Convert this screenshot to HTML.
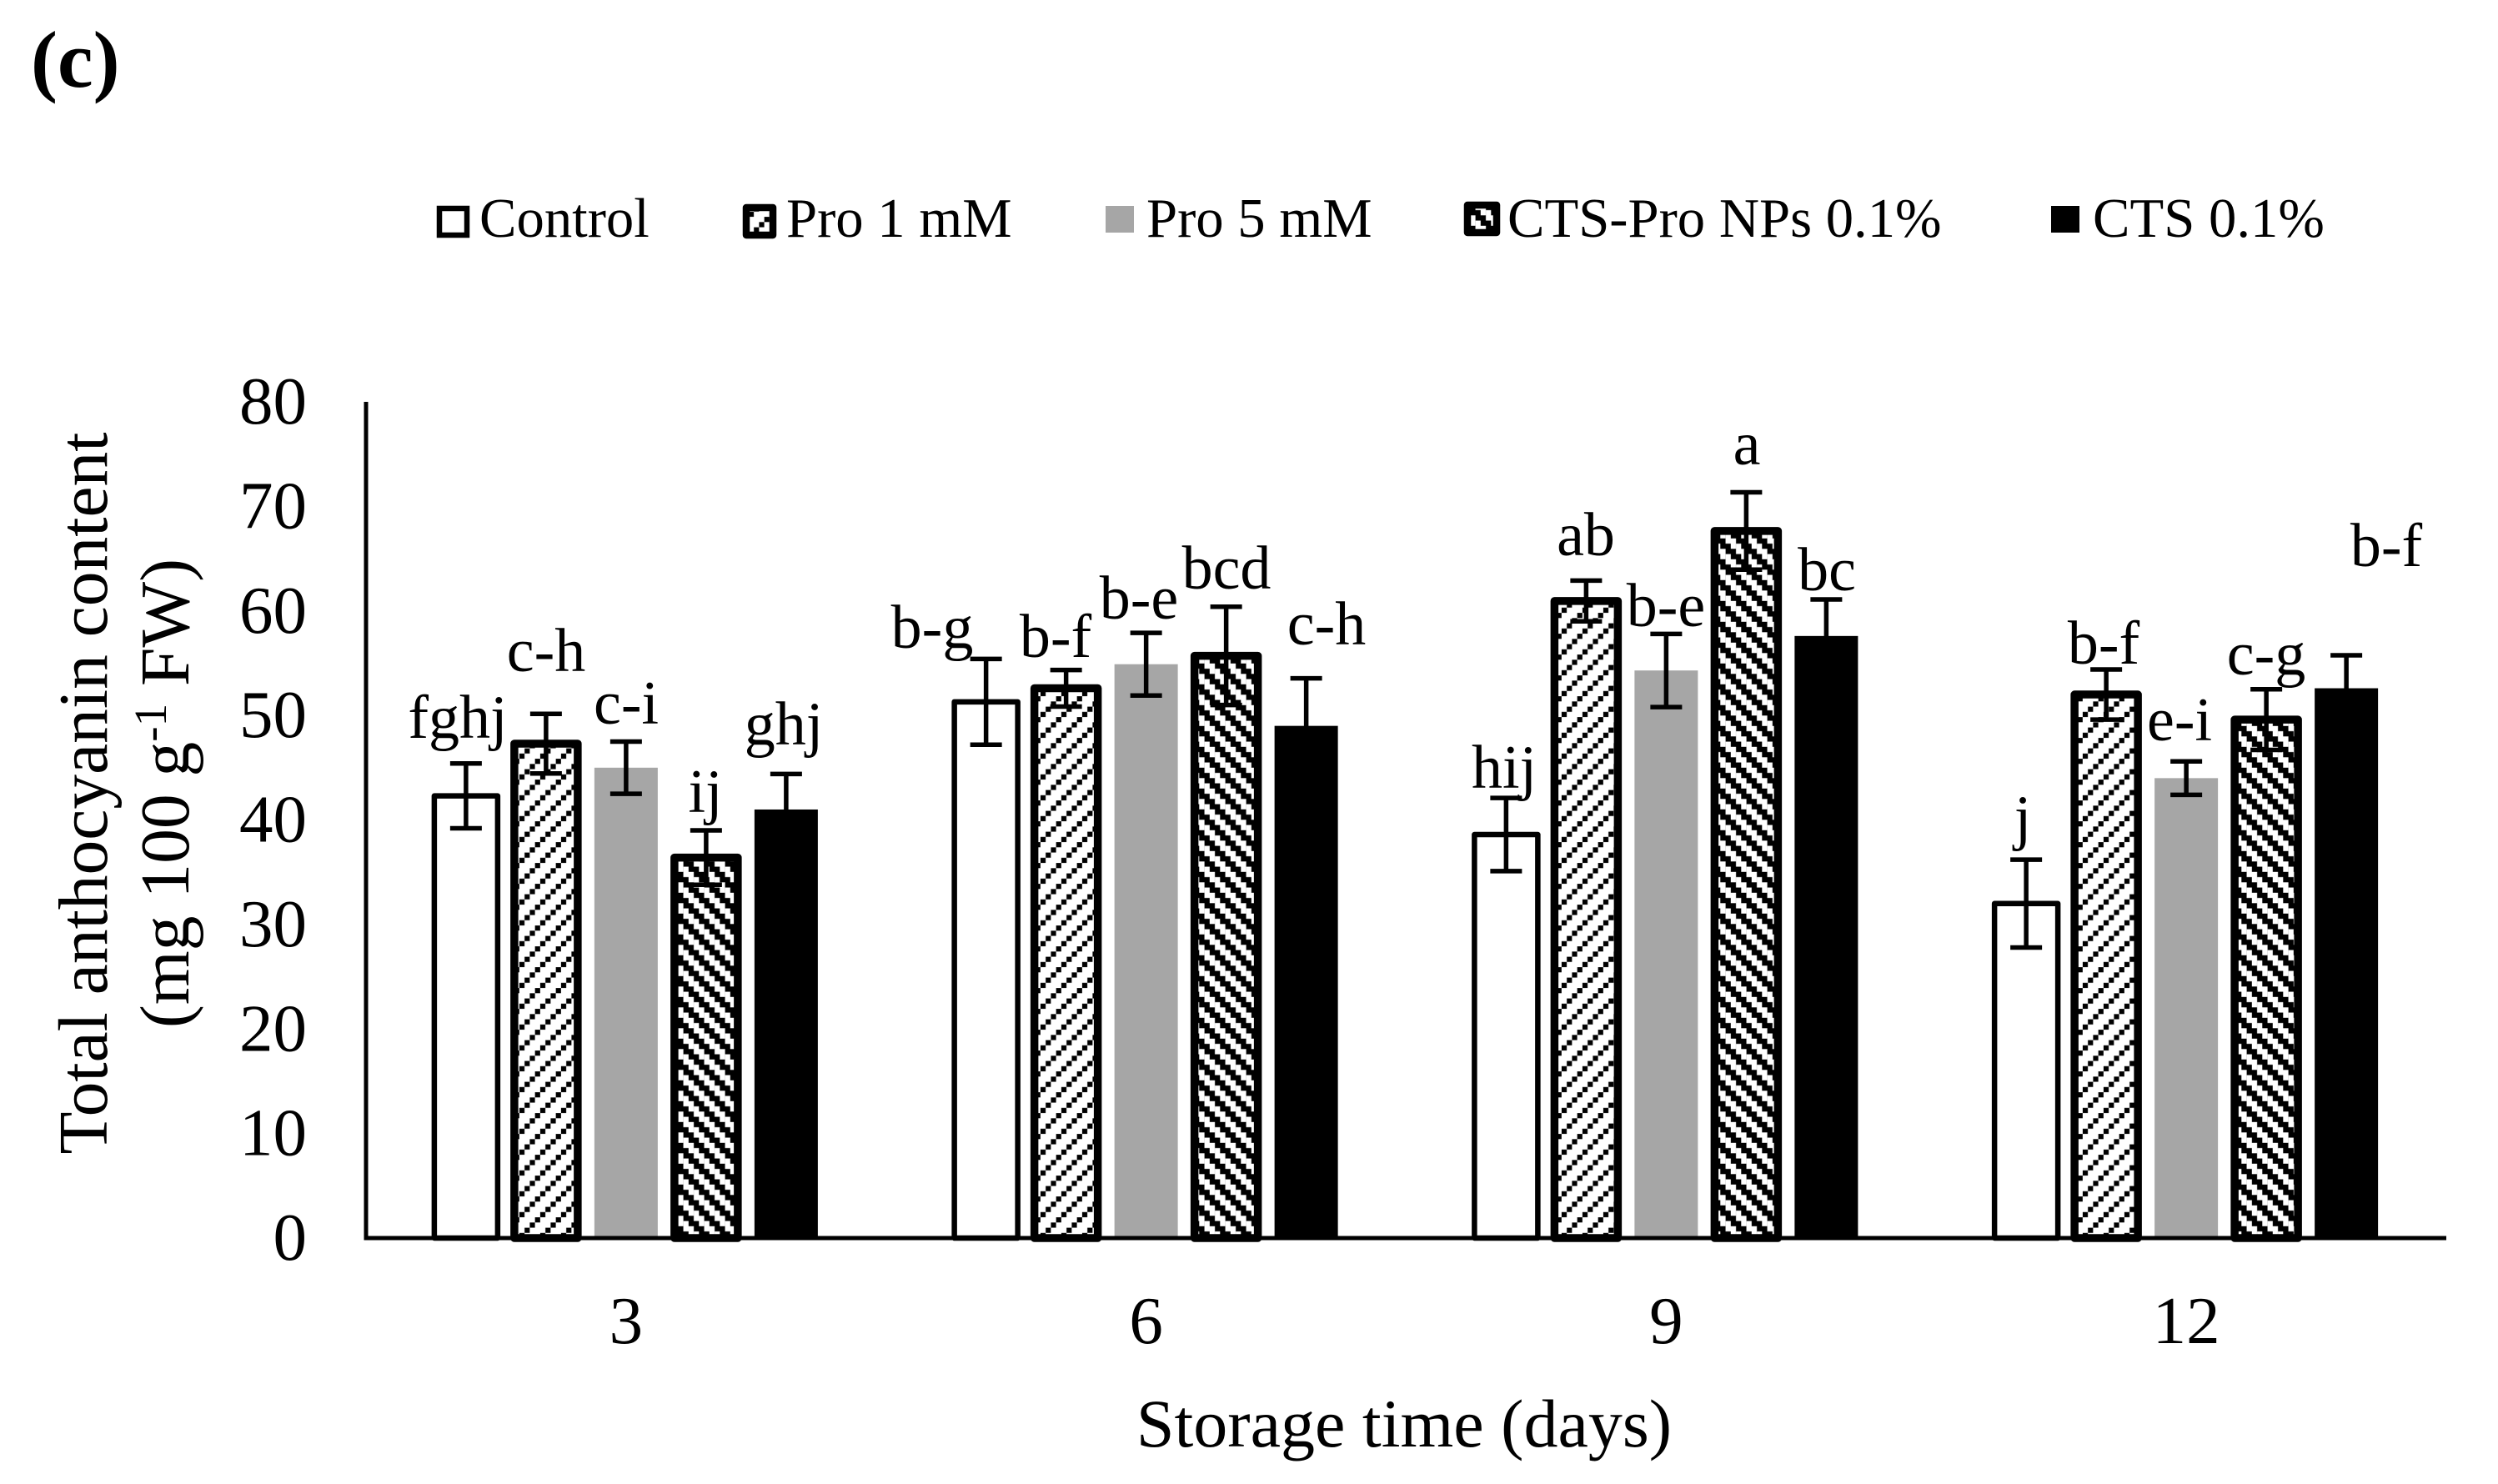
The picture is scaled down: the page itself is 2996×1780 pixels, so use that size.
<!DOCTYPE html>
<html lang="en">
<head>
<meta charset="utf-8">
<title>Total anthocyanin content chart</title>
<style>
html,body{margin:0;padding:0;background:#fff;width:2996px;height:1780px;overflow:hidden}
svg{display:block}
text{font-family:"Liberation Serif",serif;fill:#000}
</style>
</head>
<body>
<svg id="chart" xmlns="http://www.w3.org/2000/svg" width="2996" height="1780" viewBox="0 0 2996 1780">
<defs>
<pattern id="hatch-light" patternUnits="userSpaceOnUse" x="622.9" y="960.1" width="25" height="25">
<rect width="25" height="25" fill="#fff"/>
<rect x="0" y="18.75" width="6.2" height="6.2" fill="#000"/>
<rect x="6.25" y="12.5" width="6.2" height="6.2" fill="#000"/>
<rect x="12.5" y="6.25" width="6.2" height="6.2" fill="#000"/>
<rect x="18.75" y="0" width="6.2" height="6.2" fill="#000"/>
</pattern>
<pattern id="hatch-wide" patternUnits="userSpaceOnUse" x="813.3" y="1108.3" width="25" height="25">
<rect width="25" height="25" fill="#000"/>
<rect x="0" y="0" width="6.3" height="12.5" fill="#fff"/>
<rect x="6.25" y="6.25" width="6.3" height="12.5" fill="#fff"/>
<rect x="12.5" y="12.5" width="6.3" height="12.5" fill="#fff"/>
<rect x="18.75" y="18.75" width="6.3" height="6.25" fill="#fff"/>
<rect x="18.75" y="0" width="6.3" height="6.25" fill="#fff"/>
</pattern>
</defs>

<text x="37" y="104" font-size="96" font-weight="bold">(c)</text>

<g>
<g>
<rect x="527" y="250" width="33" height="32" fill="#fff" stroke="#000" stroke-width="6.5"/>
<text x="575" y="284" font-size="66.7">Control</text>
</g>
<g>
<rect x="895" y="249" width="32" height="33" fill="url(#hatch-light)" stroke="#000" stroke-width="8.5" stroke-linejoin="round"/>
<text x="943" y="284" font-size="66.7">Pro 1 mM</text>
</g>
<g>
<rect x="1326" y="247" width="34" height="32" fill="#a6a6a6"/>
<text x="1375" y="284" font-size="66.7">Pro 5 mM</text>
</g>
<g>
<rect x="1760" y="246" width="35" height="33" fill="url(#hatch-wide)" stroke="#000" stroke-width="8.5" stroke-linejoin="round"/>
<text x="1808" y="284" font-size="66.7">CTS-Pro NPs 0.1%</text>
</g>
<g>
<rect x="2460" y="247" width="34" height="32" fill="#000"/>
<text x="2510" y="284" font-size="66.7">CTS 0.1%</text>
</g>
</g>

<text transform="translate(128 951.5) rotate(-90)" text-anchor="middle" font-size="83.5">Total anthocyanin content</text>
<text transform="translate(226 951.5) rotate(-90)" text-anchor="middle" font-size="83.5">(mg 100 g<tspan font-size="55" dy="-27">-1</tspan><tspan dy="27"> FW)</tspan></text>
<text x="1684" y="1735" text-anchor="middle" font-size="82">Storage time (days)</text>

<g id="y-ticks"></g>
<g id="x-ticks"></g>
<g id="bars"></g>
<g id="axes"></g>
<g id="errors"></g>

<g font-size="74" text-anchor="middle">
<text x="549" y="885">fghj</text>
<text x="655" y="805">c-h</text>
<text x="751" y="868">c-i</text>
<text x="846" y="974">ij</text>
<text x="940" y="893">ghj</text>
<text x="1118" y="777">b-g</text>
<text x="1266" y="788">b-f</text>
<text x="1366" y="742">b-e</text>
<text x="1471" y="706">bcd</text>
<text x="1591" y="773">c-h</text>
<text x="1804" y="945">hij</text>
<text x="1902" y="666">ab</text>
<text x="1998" y="751">b-e</text>
<text x="2095" y="557">a</text>
<text x="2191" y="708">bc</text>
<text x="2426" y="1005">j</text>
<text x="2523" y="796">b-f</text>
<text x="2614" y="888">e-i</text>
<text x="2718" y="809">c-g</text>
<text x="2862" y="679">b-f</text>
</g>
</svg>

<script>
const categories = ["3", "6", "9", "12"];
const yTicks = [0, 10, 20, 30, 40, 50, 60, 70, 80];
const seriesNames = ["control", "pro-1mm", "pro-5mm", "cts-pro-nps", "cts"];
const controlValues = [42.3, 51.3, 38.6, 32.0];
const pro1Values = [47.3, 52.6, 60.95, 52.0];
const pro5Values = [45.0, 54.9, 54.3, 44.0];
const ctsProValues = [36.4, 55.7, 67.65, 49.6];
const ctsValues = [41.0, 49.0, 57.6, 52.6];
const controlErrors = [3.1, 4.1, 3.5, 4.2];
const pro1Errors = [2.85, 1.75, 1.95, 2.4];
const pro5Errors = [2.5, 3.0, 3.5, 1.6];
const ctsProErrors = [2.6, 4.7, 3.7, 2.9];
const ctsErrors = [3.4, 4.55, 3.5, 3.15];

const seriesValues = [controlValues, pro1Values, pro5Values, ctsProValues, ctsValues];
const seriesErrors = [controlErrors, pro1Errors, pro5Errors, ctsProErrors, ctsErrors];

const SVG_NS = "http://www.w3.org/2000/svg";
const plotLeft = 439, plotRight = 2934, plotBottom = 1485, plotTop = 482, yMax = 80;
const barStep = 96, barWidth = 76;

function yScale(v) {
  return plotBottom - v / yMax * (plotBottom - plotTop);
}
function xCenter(i) {
  return plotLeft + (plotRight - plotLeft) / categories.length * (i + 0.5);
}
function xBar(i, s) {
  return xCenter(i) + (s - (seriesNames.length - 1) / 2) * barStep;
}
function make(tag, parent, attrs) {
  const el = document.createElementNS(SVG_NS, tag);
  for (const k in attrs) el.setAttribute(k, attrs[k]);
  parent.appendChild(el);
  return el;
}
function seriesStyle(s) {
  if (s === 0) return { fill: "#fff", stroke: "#000", "stroke-width": 6.5, "stroke-linejoin": "round" };
  if (s === 1) return { fill: "url(#hatch-light)", stroke: "#000", "stroke-width": 9.5, "stroke-linejoin": "round" };
  if (s === 2) return { fill: "#a6a6a6" };
  if (s === 3) return { fill: "url(#hatch-wide)", stroke: "#000", "stroke-width": 9.5, "stroke-linejoin": "round" };
  return { fill: "#000" };
}

const yTickGroup = document.getElementById("y-ticks");
yTicks.forEach(function (t) {
  const el = make("text", yTickGroup, { x: 368, y: yScale(t) + 26, "text-anchor": "end", "font-size": 81 });
  
  
  el.textContent = t;
});

const xTickGroup = document.getElementById("x-ticks");
categories.forEach(function (c, i) {
  const el = make("text", xTickGroup, { x: xCenter(i), y: 1611, "text-anchor": "middle", "font-size": 81 });
  
  
  el.textContent = c;
});

const barGroup = document.getElementById("bars");
const errGroup = document.getElementById("errors");
categories.forEach(function (c, i) {
  seriesNames.forEach(function (name, s) {
    const v = seriesValues[s][i];
    const e = seriesErrors[s][i];
    const x = xBar(i, s);
    const top = yScale(v);
    const bar = make("rect", barGroup, Object.assign({
      x: x - barWidth / 2, y: top, width: barWidth, height: plotBottom - top
    }, seriesStyle(s)));
    
    

    const hi = yScale(v + e), lo = yScale(v - e);
    const err = make("path", errGroup, {
      d: "M" + (x - 19) + " " + hi + "H" + (x + 19) + "M" + x + " " + hi + "V" + lo + "M" + (x - 19) + " " + lo + "H" + (x + 19),
      fill: "none", stroke: "#000", "stroke-width": 5.5
    });
    
    
  });
});

const axisGroup = document.getElementById("axes");
const yAxis = make("line", axisGroup, { x1: plotLeft, y1: plotTop, x2: plotLeft, y2: plotBottom + 2.5, stroke: "#000", "stroke-width": 5 });


const xAxis = make("line", axisGroup, { x1: plotLeft, y1: plotBottom, x2: plotRight, y2: plotBottom, stroke: "#000", "stroke-width": 5 });


</script>
</body>
</html>
